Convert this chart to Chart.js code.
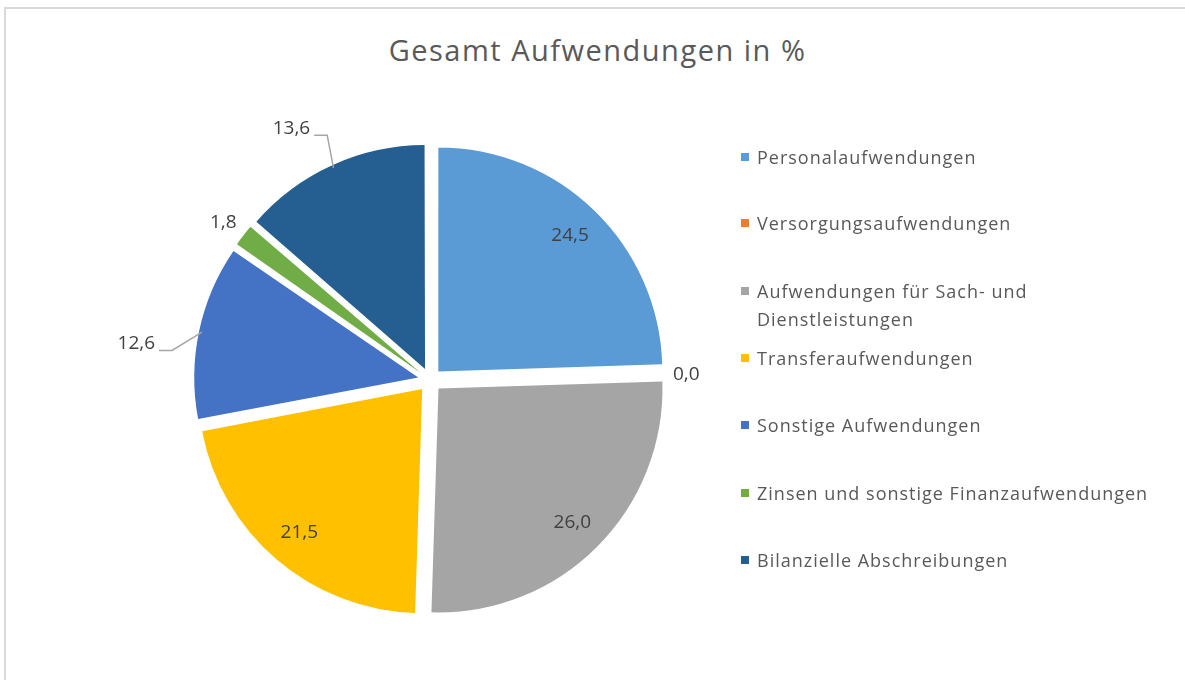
<!DOCTYPE html>
<html lang="de">
<head>
    <meta charset="UTF-8">
    <title>Gesamt Aufwendungen in %</title>
    <style>
        body {
            margin: 0;
            background: #ffffff;
            font-family: "Open Sans", Arial, sans-serif;
        }

        .frame {
            position: relative;
            width: 1185px;
            height: 680px;
            overflow: hidden;
        }

        .edge {
            position: absolute;
            left: 4px;
            top: 7px;
            right: -10px;
            bottom: -10px;
            border-top: 2px solid #dadada;
            border-left: 2px solid #dadada;
        }

        .title {
            position: absolute;
            left: 0;
            width: 1195px;
            top: 30px;
            text-align: center;
            font-size: 29px;
            letter-spacing: 1.5px;
            color: #595959;
        }

        canvas {
            position: absolute;
            left: 0;
            top: 0;
        }

        .legend {
            position: absolute;
            left: 741px;
            top: 0;
            font-size: 18px;
            letter-spacing: 1px;
            color: #595959;
        }

        .legend-item {
            position: absolute;
            left: 0;
            white-space: nowrap;
            line-height: 28px;
        }

        .legend-item span {
            display: inline-block;
            width: 8px;
            height: 8px;
            margin-right: 8px;
            vertical-align: 3px;
        }
    </style>
</head>
<body>
    <div class="frame">
        <div class="edge"></div>
        <div class="title">Gesamt Aufwendungen in %</div>
        <canvas id="pie" width="1185" height="680"></canvas>
        <div class="legend" id="legend"></div>
    </div>

    <script src="https://cdn.jsdelivr.net/npm/chart.js"></script>
    <script>
        // Daten
        const categories = [
            'Personalaufwendungen',
            'Versorgungsaufwendungen',
            'Aufwendungen für Sach- und Dienstleistungen',
            'Transferaufwendungen',
            'Sonstige Aufwendungen',
            'Zinsen und sonstige Finanzaufwendungen',
            'Bilanzielle Abschreibungen'
        ];
        const legendLines = [
            ['Personalaufwendungen'],
            ['Versorgungsaufwendungen'],
            ['Aufwendungen für Sach- und', 'Dienstleistungen'],
            ['Transferaufwendungen'],
            ['Sonstige Aufwendungen'],
            ['Zinsen und sonstige Finanzaufwendungen'],
            ['Bilanzielle Abschreibungen']
        ];
        const values = [24.5, 0.0, 26.0, 21.5, 12.6, 1.8, 13.6];
        const colors = ['#5B9BD5', '#ED7D31', '#A5A5A5', '#FFC000', '#4472C4', '#70AD47', '#255E91'];

        const pieRadius = 224;
        const explode = 12;

        // Beschriftungen außerhalb: Verschiebung vom Rand, Ausrichtung, Führungslinie
        const outsideLabels = {
            1: { dx: 7, dy: 2, align: 'left', line: false },
            4: { dx: -44, dy: 12, align: 'right', line: true },
            5: { dx: -7, dy: -13, align: 'right', line: false },
            6: { dx: -22, dy: -37, align: 'right', line: true }
        };

        function fmt(v) {
            return v.toFixed(1).replace('.', ',');
        }

        // Radius nach dem Versatz wieder angleichen, damit alle Stücke gleich groß sind
        const evenRadius = {
            id: 'evenRadius',
            beforeDatasetDraw(chart, args) {
                const meta = chart.getDatasetMeta(args.index);
                const r = meta.controller.outerRadius;
                meta.data.forEach(arc => {
                    const off = (arc.options.offset || 0) / 4;
                    const fix = 1 - Math.sin(Math.min(Math.PI, arc.circumference || 0));
                    arc.outerRadius = r - off * fix;
                });
            }
        };

        const sliceLabels = {
            id: 'sliceLabels',
            afterDatasetsDraw(chart) {
                const ctx = chart.ctx;
                const meta = chart.getDatasetMeta(0);
                ctx.save();
                ctx.font = '19px "Open Sans"';
                ctx.fillStyle = '#404040';
                ctx.textBaseline = 'middle';
                meta.data.forEach((arc, i) => {
                    const mid = (arc.startAngle + arc.endAngle) / 2;
                    const cos = Math.cos(mid), sin = Math.sin(mid);
                    const text = fmt(values[i]);
                    const o = outsideLabels[i];
                    if (!o) {
                        const d = explode + pieRadius * 0.845;
                        ctx.textAlign = 'center';
                        ctx.fillText(text, arc.x + cos * d, arc.y + sin * d);
                        return;
                    }
                    const ex = arc.x + cos * (explode + pieRadius);
                    const ey = arc.y + sin * (explode + pieRadius);
                    const ax = ex + o.dx, ay = ey + o.dy;
                    ctx.textAlign = o.align;
                    ctx.fillText(text, ax, ay);
                    if (o.line) {
                        const side = o.align === 'right' ? 1 : -1;
                        ctx.beginPath();
                        ctx.strokeStyle = '#a6a6a6';
                        ctx.lineWidth = 1.5;
                        ctx.moveTo(ax + side * 4, ay + 7);
                        ctx.lineTo(ax + side * 17, ay + 7);
                        ctx.lineTo(ex - cos * 3, ey - sin * 3);
                        ctx.stroke();
                    }
                });
                ctx.restore();
            }
        };

        new Chart(document.getElementById('pie').getContext('2d'), {
            type: 'pie',
            data: {
                labels: categories,
                datasets: [{
                    data: values,
                    backgroundColor: colors,
                    borderWidth: 0,
                    offset: explode * 4,
                    hoverOffset: explode * 4,
                    radius: pieRadius
                }]
            },
            options: {
                responsive: false,
                animation: false,
                events: [],
                layout: {
                    padding: { left: 100, right: 425, top: 100, bottom: 20 }
                },
                plugins: {
                    legend: { display: false },
                    title: { display: false },
                    tooltip: { enabled: false }
                }
            },
            plugins: [evenRadius, sliceLabels]
        });

        // Legende
        const legendTops = [143, 209, 277, 344, 411, 479, 546];
        const legend = document.getElementById('legend');
        legendLines.forEach((lines, i) => {
            const item = document.createElement('div');
            item.className = 'legend-item';
            item.style.top = legendTops[i] + 'px';
            item.innerHTML = '<span style="background:' + colors[i] + '"></span>' +
                lines.join('<br><span style="background:transparent"></span>');
            legend.appendChild(item);
        });
    </script>
</body>
</html>
